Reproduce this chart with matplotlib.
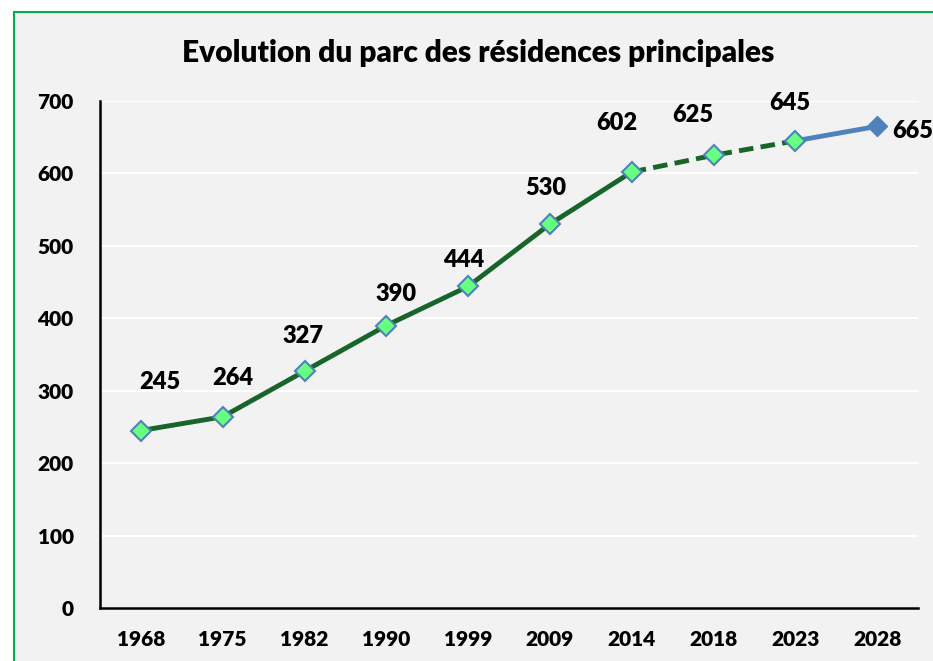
import matplotlib.pyplot as plt
from matplotlib.patches import Rectangle

# Data
years = ['1968', '1975', '1982', '1990', '1999', '2009', '2014', '2018', '2023', '2028']
values = [245, 264, 327, 390, 444, 530, 602, 625, 645, 665]
# label offsets (points) relative to each marker
label_dx = [14, 7, -1, 7, -3, -3, -11, -15, -4, 11]
label_dy = [35, 28, 25, 23, 19, 26, 35, 29, 27, -3]

plt.rcParams['font.family'] = ['Lato', 'DejaVu Sans']
plt.rcParams['font.weight'] = 'bold'

fig = plt.figure(figsize=(9.33, 6.61), dpi=100)
fig.patch.set_facecolor('white')
fig.patches.append(Rectangle((14 / 933, -0.1), 1.2, 1.1 - 12 / 661,
                             transform=fig.transFigure, facecolor='#f2f2f2',
                             edgecolor='#00b050', linewidth=1.5, zorder=-10))

ax = fig.add_axes([100 / 933, 53 / 661, 818 / 933, 507 / 661])
ax.set_facecolor('#f2f2f2')
x = list(range(len(years)))

green = '#17652b'
blue = '#4f81bd'
ax.plot(x[:7], values[:7], color=green, lw=3.5, zorder=2)
ax.plot(x[6:9], values[6:9], color=green, lw=3.5, ls=(0, (3, 1.5)), zorder=2)
ax.plot(x[8:], values[8:], color=blue, lw=3.5, zorder=2)
ax.plot(x[:9], values[:9], ls='none', marker='D', ms=10, mfc='#66ff80',
        mec=blue, mew=1.5, zorder=3)
ax.plot(x[9:], values[9:], ls='none', marker='D', ms=10, mfc=blue,
        mec=blue, zorder=3)

for i, v in enumerate(values):
    ha = 'left' if i == len(values) - 1 else 'center'
    ax.annotate(str(v), (x[i], v), xytext=(label_dx[i], label_dy[i]),
                textcoords='offset points', ha=ha, va='center',
                fontsize=17, fontweight='heavy', color='black',
                annotation_clip=False)

ax.set_xlim(-0.5, len(years) - 0.5)
ax.set_ylim(0, 700)
ax.set_yticks(range(0, 701, 100))
ax.set_xticks(x)
ax.set_xticklabels(years)
ax.tick_params(length=0, labelsize=15, pad=16)
ax.tick_params(axis='y', pad=19)
for lab in ax.get_xticklabels() + ax.get_yticklabels():
    lab.set_fontweight('heavy')
ax.grid(axis='y', color='white', lw=1.5)
ax.set_axisbelow(True)
for s in ['top', 'right']:
    ax.spines[s].set_visible(False)
for s in ['left', 'bottom']:
    ax.spines[s].set_linewidth(1.8)
    ax.spines[s].set_color('black')

fig.text(478 / 933, 1 - 53 / 661, 'Evolution du parc des résidences principales',
         ha='center', va='center', fontsize=21.5, fontweight='heavy')

fig.savefig('out.png', dpi=100, facecolor=fig.get_facecolor())
plt.close()
